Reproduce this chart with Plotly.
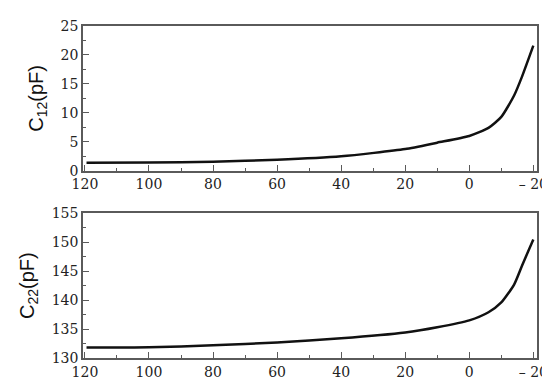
import plotly.graph_objects as go
from plotly.subplots import make_subplots

temperature = [119.5, 100, 80, 60, 40, 20, 10, 0, -6, -10, -14, -16.5, -20]
c12_pf = [1.4, 1.44, 1.56, 1.9, 2.5, 3.75, 4.85, 6.0, 7.4, 9.3, 13.0, 16.3, 21.6]
c22_pf = [131.8, 131.85, 132.2, 132.7, 133.4, 134.4, 135.3, 136.5, 137.9, 139.6, 142.7, 146.0, 150.5]

x_tickvals = [120, 100, 80, 60, 40, 20, 0, -20]
x_ticktext = ["120", "100", "80", "60", "40", "20", "0", "– 20"]
y1_ticks = [0, 5, 10, 15, 20, 25]
y2_ticks = [130, 135, 140, 145, 150, 155]

fig = make_subplots(rows=2, cols=1, vertical_spacing=0.1)

fig.add_trace(go.Scatter(x=temperature, y=c12_pf, mode="lines",
                         line=dict(color="#111111", width=2.5, shape="spline", smoothing=0.6),
                         showlegend=False), row=1, col=1)
fig.add_trace(go.Scatter(x=temperature, y=c22_pf, mode="lines",
                         line=dict(color="#111111", width=2.5, shape="spline", smoothing=0.6),
                         showlegend=False), row=2, col=1)

axis_line = "#5a5a5a"
serif = "DejaVu Serif"
sans = "Liberation Sans"
tickfont = dict(family=serif, size=14, color="#222222")

common_x = dict(range=[120.6, -21.15], tickmode="array", tickvals=x_tickvals, ticktext=x_ticktext,
                ticks="inside", ticklen=6, tickwidth=1.3, tickcolor=axis_line,
                minor=dict(ticks="inside", ticklen=3, tickwidth=1.3, tickcolor=axis_line, dtick=10, tick0=0),
                showline=True, linecolor=axis_line, linewidth=1.5, mirror=True,
                showgrid=False, zeroline=False, tickfont=tickfont)
fig.update_xaxes(**common_x, row=1, col=1)
fig.update_xaxes(**common_x, row=2, col=1)

common_y = dict(ticks="inside", ticklen=6, tickwidth=1.3, tickcolor=axis_line,
                showline=True, linecolor=axis_line, linewidth=1.5, mirror=True,
                showgrid=False, zeroline=False, tickfont=tickfont)
fig.update_yaxes(**common_y, range=[0, 25], tickvals=y1_ticks,
                 minor=dict(ticks="inside", ticklen=3, tickwidth=1.3, tickcolor=axis_line, dtick=2.5, tick0=0),
                 title=dict(text="C<sub>12</sub>(pF)", font=dict(family=sans, size=20, color="#111111"), standoff=12),
                 row=1, col=1)
fig.update_yaxes(**common_y, range=[130, 155], tickvals=y2_ticks,
                 minor=dict(ticks="inside", ticklen=3, tickwidth=1.3, tickcolor=axis_line, dtick=2.5, tick0=130),
                 title=dict(text="C<sub>22</sub>(pF)", font=dict(family=sans, size=20, color="#111111"), standoff=12),
                 row=2, col=1)

fig.update_layout(
    width=550, height=382,
    margin=dict(l=75, r=18, t=10, b=30),
    paper_bgcolor="white", plot_bgcolor="white",
    font=dict(family=serif),
)
fig.layout.yaxis.domain = [0.564, 1.0]
fig.layout.yaxis2.domain = [0.0, 0.4357]

fig.write_html("out.html")
